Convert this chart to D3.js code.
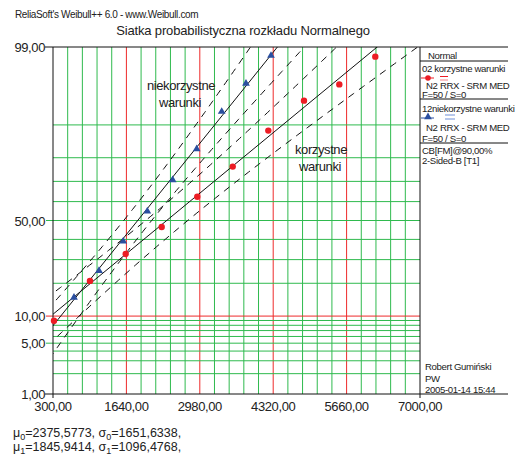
<!DOCTYPE html>
<html>
<head>
<meta charset="utf-8">
<script src="https://cdn.jsdelivr.net/npm/d3@7"></script>
<style>
  body { margin: 0; background: #fff; }
  svg { display: block; }
  text { font-family: "Liberation Sans", Arial, sans-serif; fill: #222; }
</style>
</head>
<body>
<svg id="chart" width="518" height="457"></svg>
<script>
// punkty - korzystne warunki (czas, % niezawodnosci)
var redX = [318, 975, 1627, 2284, 2934, 3581, 4231, 4882, 5527, 6184];
var redP = [8.96, 20.9, 32.7, 46.5, 62.5, 76.5, 88.6, 94.6, 96.6, 98.6];
// punkty - niekorzystne warunki
var blueX = [683, 1140, 1583, 2022, 2485, 2923, 3380, 3823, 4280];
var blueP = [14.8, 24.6, 38.5, 54.4, 70.2, 82.8, 92.6, 96.6, 98.6];
// parametry rozkladu
var mu = [2375.5773, 1845.9414];
var sigma = [1651.6338, 1096.4768];
var nFail = [50, 50];
var confLevel = 0.90;

var xTicks = [300, 1640, 2980, 4320, 5660, 7000];
var xTickLabels = ["300,00", "1640,00", "2980,00", "4320,00", "5660,00", "7000,00"];
var yTicks = [1, 5, 10, 50, 99];
var yTickLabels = ["1,00", "5,00", "10,00", "50,00", "99,00"];
var yGrid = [2, 3, 4, 5, 6, 7, 8, 9, 10, 20, 30, 40, 50, 60, 70, 80, 90];

var svg = d3.select("#chart");
var pLeft = 53, pRight = 420, pTop = 47, pBottom = 394, legRight = 508;

// odwrotna dystrybuanta rozkladu normalnego (Acklam)
function probit(p) {
    var a = [-3.969683028665376e+01, 2.209460984245205e+02, -2.759285104469687e+02, 1.383577518672690e+02, -3.066479806614716e+01, 2.506628277459239e+00];
    var b = [-5.447609879822406e+01, 1.615858368580409e+02, -1.556989798598866e+02, 6.680131188771972e+01, -1.328068155288572e+01];
    var c = [-7.784894002430293e-03, -3.223964580411365e-01, -2.400758277161838e+00, -2.549732539343734e+00, 4.374664141464968e+00, 2.938163982698783e+00];
    var d = [7.784695709041462e-03, 3.224671290700398e-01, 2.445134137142996e+00, 3.754408661907416e+00];
    var pl = 0.02425, q, r;
    if (p < pl) {
        q = Math.sqrt(-2 * Math.log(p));
        return (((((c[0] * q + c[1]) * q + c[2]) * q + c[3]) * q + c[4]) * q + c[5]) / ((((d[0] * q + d[1]) * q + d[2]) * q + d[3]) * q + 1);
    }
    if (p <= 1 - pl) {
        q = p - 0.5; r = q * q;
        return (((((a[0] * r + a[1]) * r + a[2]) * r + a[3]) * r + a[4]) * r + a[5]) * q / (((((b[0] * r + b[1]) * r + b[2]) * r + b[3]) * r + b[4]) * r + 1);
    }
    q = Math.sqrt(-2 * Math.log(1 - p));
    return -(((((c[0] * q + c[1]) * q + c[2]) * q + c[3]) * q + c[4]) * q + c[5]) / ((((d[0] * q + d[1]) * q + d[2]) * q + d[3]) * q + 1);
}

var x = d3.scaleLinear().domain([300, 7000]).range([pLeft, pRight]);
var zScale = d3.scaleLinear().domain([probit(0.01), probit(0.99)]).range([pBottom, pTop]);
function yP(p) { return zScale(probit(p / 100)); }

var green = "#2fba4e", red = "#ee2a2a";

// naglowki
svg.append("text").attr("x", 15).attr("y", 18)
    .style("font-size", "10px").style("letter-spacing", "-0.35px")
    .text("ReliaSoft's Weibull++ 6.0 - www.Weibull.com");
svg.append("text").attr("x", 243).attr("y", 35).attr("text-anchor", "middle")
    .style("font-size", "13px").style("letter-spacing", "-0.15px")
    .text("Siatka probabilistyczna rozkładu  Normalnego");

// siatka pionowa
var grid = svg.append("g");
var step = (7000 - 300) / 25;
for (var k = 1; k < 25; k++) {
    var gx = x(300 + k * step);
    grid.append("line")
        .attr("x1", gx).attr("x2", gx).attr("y1", pTop).attr("y2", pBottom)
        .attr("stroke", k % 5 === 0 ? red : green).attr("stroke-width", 1);
}
// siatka pozioma
yGrid.forEach(function (p) {
    var gy = yP(p);
    var isLabel = yTicks.indexOf(p) >= 0;
    grid.append("line")
        .attr("x1", isLabel ? 46 : pLeft).attr("x2", pRight).attr("y1", gy).attr("y2", gy)
        .attr("stroke", p === 10 ? red : green).attr("stroke-width", 1);
});

// osie i ramka
svg.append("line").attr("x1", 45).attr("x2", legRight).attr("y1", pTop).attr("y2", pTop).attr("stroke", "#111");
svg.append("line").attr("x1", 45).attr("x2", legRight).attr("y1", pBottom).attr("y2", pBottom).attr("stroke", "#111");
svg.append("line").attr("x1", pLeft).attr("x2", pLeft).attr("y1", pTop).attr("y2", 398).attr("stroke", "#111");
svg.append("line").attr("x1", pRight).attr("x2", pRight).attr("y1", pTop).attr("y2", 398).attr("stroke", "#111");

// etykiety osi
svg.append("g").selectAll("text").data(yTicks).enter().append("text")
    .attr("x", 45).attr("y", function (d) { return yP(d) + 5; })
    .attr("text-anchor", "end")
    .style("font-size", "13px").style("letter-spacing", "-0.4px")
    .text(function (d, i) { return yTickLabels[i]; });
svg.append("g").selectAll("text").data(xTicks).enter().append("text")
    .attr("x", function (d) { return x(d); }).attr("y", 411)
    .attr("text-anchor", "middle")
    .style("font-size", "13px").style("letter-spacing", "-0.4px")
    .text(function (d, i) { return xTickLabels[i]; });

// linie dopasowania i przedzialy ufnosci
svg.append("clipPath").attr("id", "plotClip").append("rect")
    .attr("x", pLeft).attr("y", pTop).attr("width", pRight - pLeft).attr("height", pBottom - pTop);
var plot = svg.append("g").attr("clip-path", "url(#plotClip)");

var zc = probit(1 - (1 - confLevel) / 2);
var zs = d3.range(-3, 3.001, 0.05);
var line = d3.line()
    .x(function (d) { return x(d[0]); })
    .y(function (d) { return zScale(d[1]); });

for (var s = 0; s < 2; s++) {
    (function (m, sd, n) {
        var fit = [[m + sd * -3, -3], [m + sd * 3, 3]];
        plot.append("path").attr("d", line(fit))
            .attr("fill", "none").attr("stroke", "#111").attr("stroke-width", 1);
        [-1, 1].forEach(function (sign) {
            var pts = zs.map(function (z) {
                var se = sd * Math.sqrt(1 / n + z * z / (2 * n));
                return [m + sd * z + sign * zc * se, z];
            });
            plot.append("path").attr("d", line(pts))
                .attr("fill", "none").attr("stroke", "#111").attr("stroke-width", 1)
                .attr("stroke-dasharray", "7,6");
        });
    })(mu[s], sigma[s], nFail[s]);
}

// punkty
var tri = d3.symbol().type(d3.symbolTriangle).size(26);
svg.append("g").selectAll("circle").data(redX).enter().append("circle")
    .attr("cx", function (d) { return x(d); })
    .attr("cy", function (d, i) { return yP(redP[i]); })
    .attr("r", 3.2).attr("fill", "#ec1c24");
svg.append("g").selectAll("path").data(blueX).enter().append("path")
    .attr("d", tri)
    .attr("transform", function (d, i) { return "translate(" + x(d) + "," + (yP(blueP[i]) - 1) + ")"; })
    .attr("fill", "#2b4fa0");

// opisy
var note = svg.append("g").style("font-size", "13px").style("letter-spacing", "-0.4px").attr("text-anchor", "middle");
note.append("text").attr("x", 181).attr("y", 90).text("niekorzystne");
note.append("text").attr("x", 180).attr("y", 107).text("warunki");
note.append("text").attr("x", 321).attr("y", 154).text("korzystne");
note.append("text").attr("x", 320).attr("y", 171).text("warunki");

// legenda
var leg = svg.append("g").style("font-size", "9.6px").style("letter-spacing", "-0.35px");
[61, 99, 143].forEach(function (ly) {
    leg.append("line").attr("x1", pRight).attr("x2", legRight).attr("y1", ly).attr("y2", ly).attr("stroke", "#111");
});
leg.append("text").attr("x", 428).attr("y", 58.5).text("Normal");
leg.append("text").attr("x", 422).attr("y", 72).text("02  korzystne warunki");
leg.append("line").attr("x1", 421).attr("x2", 434).attr("y1", 78).attr("y2", 78).attr("stroke", "#ec1c24");
leg.append("circle").attr("cx", 428).attr("cy", 78).attr("r", 2.8).attr("fill", "#ec1c24");
leg.append("line").attr("x1", 440).attr("x2", 448).attr("y1", 76.5).attr("y2", 76.5).attr("stroke", "#ec1c24");
leg.append("line").attr("x1", 440).attr("x2", 448).attr("y1", 80).attr("y2", 80).attr("stroke", "#f4868a");
leg.append("text").attr("x", 426).attr("y", 88.5).text("N2 RRX - SRM MED");
leg.append("text").attr("x", 422).attr("y", 98).text("F=50 / S=0");
leg.append("text").attr("x", 422).attr("y", 111.5).text("12niekorzystne warunki");
leg.append("line").attr("x1", 421).attr("x2", 434).attr("y1", 118).attr("y2", 118).attr("stroke", "#2b4fa0");
leg.append("path").attr("d", tri).attr("transform", "translate(428,117)").attr("fill", "#2b4fa0");
leg.append("line").attr("x1", 445).attr("x2", 455).attr("y1", 115).attr("y2", 115).attr("stroke", "#6f8fd8");
leg.append("line").attr("x1", 445).attr("x2", 455).attr("y1", 119).attr("y2", 119).attr("stroke", "#6f8fd8");
leg.append("text").attr("x", 426).attr("y", 131).text("N2 RRX - SRM MED");
leg.append("text").attr("x", 422).attr("y", 142).text("F=50 / S=0");
leg.append("text").attr("x", 422).attr("y", 154).text("CB[FM]@90,00%");
leg.append("text").attr("x", 422).attr("y", 164).text("2-Sided-B [T1]");
leg.append("text").attr("x", 425).attr("y", 370).text("Robert Gumiński");
leg.append("text").attr("x", 425).attr("y", 381.5).text("PW");
leg.append("text").attr("x", 425).attr("y", 393).text("2005-01-14 15:44");

// parametry
var par = svg.append("g").style("font-family", "'Liberation Serif', 'Times New Roman', serif").style("font-size", "12.5px");
[0, 1].forEach(function (i) {
    var t = par.append("text").attr("x", 13).attr("y", 437 + i * 13.5);
    t.append("tspan").text("μ");
    t.append("tspan").attr("dy", 3).style("font-size", "9px").text(i);
    t.append("tspan").attr("dy", -3).text("=" + d3.format(".4f")(mu[i]).replace(".", ",") + ", σ");
    t.append("tspan").attr("dy", 3).style("font-size", "9px").text(i);
    t.append("tspan").attr("dy", -3).text("=" + d3.format(".4f")(sigma[i]).replace(".", ",") + ",");
});
</script>
</body>
</html>
